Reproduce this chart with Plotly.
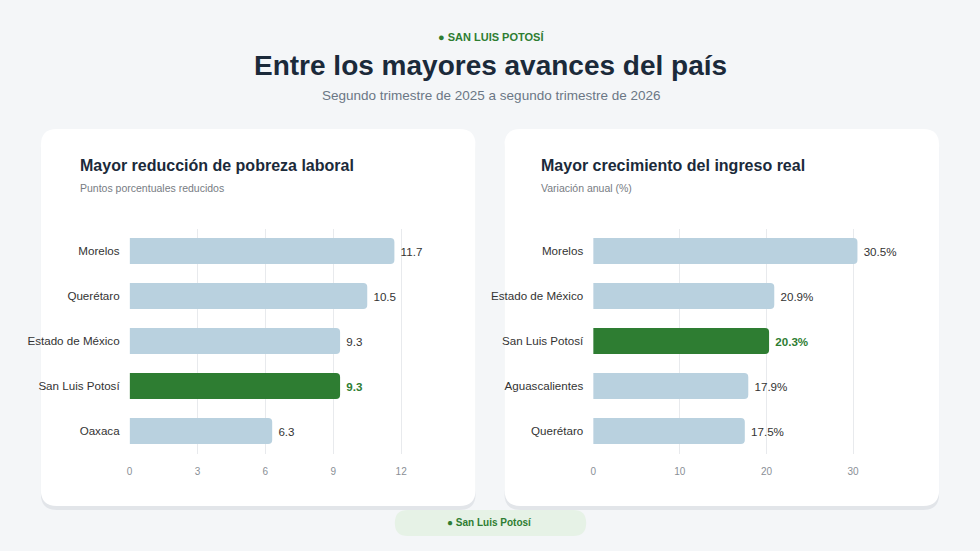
import plotly.graph_objects as go

W, H = 980, 551

# data
pobreza_estados = ["Morelos", "Querétaro", "Estado de México", "San Luis Potosí", "Oaxaca"]
pobreza_valores = [11.7, 10.5, 9.3, 9.3, 6.3]
ingreso_estados = ["Morelos", "Estado de México", "San Luis Potosí", "Aguascalientes", "Querétaro"]
ingreso_valores = [30.5, 20.9, 20.3, 17.9, 17.5]
destacado = "San Luis Potosí"
pobreza_ticks = [0, 3, 6, 9, 12]
ingreso_ticks = [0, 10, 20, 30]

AZUL = "#b9d1df"
VERDE = "#2e7d32"
TXT = "#1b2a3a"
FONT = "Liberation Sans, Arial, sans-serif"


def px(x):
    return x / W


def py(y):
    return 1 - y / H


def rounded(x0, y0, x1, y1, r):
    # rounded rectangle path in paper coords (input in pixels)
    pts = [
        f"M {px(x0 + r)} {py(y0)}",
        f"L {px(x1 - r)} {py(y0)}",
        f"Q {px(x1)} {py(y0)} {px(x1)} {py(y0 + r)}",
        f"L {px(x1)} {py(y1 - r)}",
        f"Q {px(x1)} {py(y1)} {px(x1 - r)} {py(y1)}",
        f"L {px(x0 + r)} {py(y1)}",
        f"Q {px(x0)} {py(y1)} {px(x0)} {py(y1 - r)}",
        f"L {px(x0)} {py(y0 + r)}",
        f"Q {px(x0)} {py(y0)} {px(x0 + r)} {py(y0)}",
        "Z",
    ]
    return " ".join(pts)


def barras(estados, valores, fmt, xa, ya):
    colores = [VERDE if e == destacado else AZUL for e in estados]
    textos = [f" <b>{fmt.format(v)}</b>" if e == destacado else " " + fmt.format(v)
              for e, v in zip(estados, valores)]
    tcol = [VERDE if e == destacado else "#333333" for e in estados]
    return go.Bar(
        x=valores, y=estados, orientation="h",
        marker=dict(color=colores, cornerradius=4, line=dict(width=0)),
        width=0.58,
        text=textos, textposition="outside", cliponaxis=False,
        textfont=dict(color=tcol, size=11.6, family=FONT),
        xaxis=xa, yaxis=ya, hoverinfo="skip", showlegend=False,
    )


fig = go.Figure()
fig.add_trace(barras(pobreza_estados, pobreza_valores, "{}", "x", "y"))
fig.add_trace(barras(ingreso_estados, ingreso_valores, "{}%", "x2", "y2"))

ytop, ybot = py(228.5), py(453.5)
eje_x = dict(showgrid=True, gridcolor="#e8eaed", gridwidth=1, zeroline=False,
             showline=False, ticks="", tickfont=dict(size=10, color="#8a8f96", family=FONT),
             ticklabelstandoff=10, fixedrange=True)
eje_y = dict(showgrid=False, zeroline=False, showline=False, ticks="",
             tickfont=dict(size=11.6, color="#333333", family=FONT), ticklabelstandoff=9,
             fixedrange=True)

fig.update_layout(
    width=W, height=H,
    margin=dict(l=0, r=0, t=0, b=0),
    paper_bgcolor="#f4f6f8",
    plot_bgcolor="rgba(0,0,0,0)",
    font=dict(family=FONT, color=TXT),
    xaxis=dict(eje_x, domain=[px(127), px(438)], range=[0, 13.7], tickvals=pobreza_ticks),
    yaxis=dict(eje_y, domain=[ybot, ytop], categoryorder="array",
               categoryarray=pobreza_estados[::-1], anchor="x"),
    xaxis2=dict(eje_x, domain=[px(592), px(904)], range=[0, 35.9], tickvals=ingreso_ticks,
                anchor="y2"),
    yaxis2=dict(eje_y, domain=[ybot, ytop], categoryorder="array",
                categoryarray=ingreso_estados[::-1], anchor="x2"),
)

shapes = []
for x0 in (38, 503):
    shapes.append(dict(type="path", path=rounded(x0, 132, x0 + 436, 510, 16),
                       xref="paper", yref="paper", fillcolor="#e2e5e9",
                       line=dict(width=0), layer="below"))
    shapes.append(dict(type="path", path=rounded(x0, 129, x0 + 436, 506, 16),
                       xref="paper", yref="paper", fillcolor="#ffffff",
                       line=dict(width=0), layer="below"))
shapes.append(dict(type="path", path=rounded(393, 510, 585, 536, 13),
                   xref="paper", yref="paper", fillcolor="#e6f2e6",
                   line=dict(width=0), layer="below"))
fig.update_layout(shapes=shapes)


def nota(texto, x, y, size, color, bold=False, xanchor="center"):
    if bold:
        texto = f"<b>{texto}</b>"
    fig.add_annotation(text=texto, x=px(x), y=py(y), xref="paper", yref="paper",
                       xanchor=xanchor, yanchor="middle", showarrow=False,
                       font=dict(size=size, color=color, family=FONT))


nota("● SAN LUIS POTOSÍ", 489, 37, 11, VERDE, bold=True)
nota("Entre los mayores avances del país", 489, 66, 28, TXT, bold=True)
nota("Segundo trimestre de 2025 a segundo trimestre de 2026", 489, 95, 13.5, "#6b7785")
nota("Mayor reducción de pobreza laboral", 75, 165, 16, TXT, bold=True, xanchor="left")
nota("Puntos porcentuales reducidos", 75, 188, 10.5, "#777c83", xanchor="left")
nota("Mayor crecimiento del ingreso real", 538, 165, 16, TXT, bold=True, xanchor="left")
nota("Variación anual (%)", 538, 188, 10.5, "#777c83", xanchor="left")
nota("● San Luis Potosí", 488, 522, 10, VERDE, bold=True)

fig.write_html("out.html", config={"displayModeBar": False},
               post_script="document.body.style.margin='0';document.body.style.overflow='hidden';")
